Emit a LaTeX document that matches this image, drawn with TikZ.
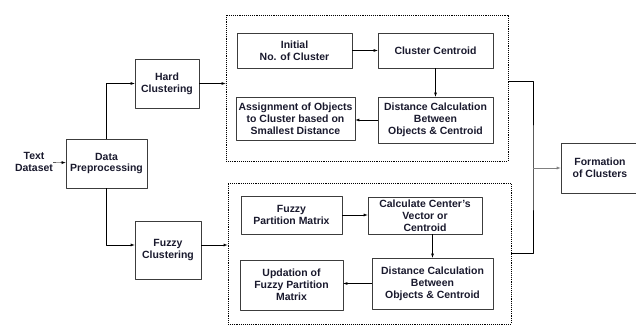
\documentclass[tikz,border=0pt]{standalone}
\usepackage{fontspec}
\setmainfont{Liberation Sans}
\definecolor{txtcol}{RGB}{25,25,45}
\definecolor{boxcol}{RGB}{60,60,60}
\tikzset{
  stepbox/.style={draw=boxcol,line width=0.7pt,align=center,inner sep=0pt,
    font=\fontsize{10.5}{12}\selectfont\bfseries,text=txtcol},
  groupbox/.style={draw=black,densely dotted,line width=0.9pt,inner sep=0pt},
}
\begin{document}
\begin{tikzpicture}[>=latex,line join=bevel,]
\useasboundingbox (0bp,0bp) rectangle (636bp,325bp);
%%
\node (node_top) at (367bp,237bp) [groupbox,minimum width=282bp,minimum height=146bp] {};
  \node (node_bot) at (369.5bp,71.5bp) [groupbox,minimum width=283bp,minimum height=141bp] {};
%
\node (node_text) at (34bp,163bp) [stepbox,draw=none] {Text\\Dataset};
  \node (node_prep) at (106.5bp,161.5bp) [stepbox,minimum width=81bp,minimum height=49bp] {Data\\Preprocessing};
  \node (node_hard) at (167bp,241.5bp) [stepbox,minimum width=64bp,minimum height=49bp] {Hard\\Clustering};
  \node (node_fuzzy) at (168bp,75bp) [stepbox,minimum width=66bp,minimum height=58bp] {Fuzzy\\Clustering};
%
\node (node_init) at (294.5bp,274.5bp) [stepbox,minimum width=115bp,minimum height=35bp] {Initial\\No. of Cluster};
  \node (node_cent) at (435.5bp,274.5bp) [stepbox,minimum width=115bp,minimum height=35bp] {Cluster Centroid};
  \node (node_dist1) at (435.5bp,205bp) [stepbox,minimum width=115bp,minimum height=46bp] {Distance Calculation\\Between\\Objects \& Centroid};
  \node (node_assign) at (295.5bp,206.5bp) [stepbox,minimum width=119bp,minimum height=43bp] {Assignment of Objects\\to Cluster based on\\Smallest Distance};
%
\node (node_fpm) at (291.5bp,110bp) [stepbox,minimum width=101bp,minimum height=38bp] {Fuzzy\\Partition Matrix};
  \node (node_ccv) at (425bp,109.5bp) [stepbox,minimum width=114bp,minimum height=37bp] {Calculate Center's\\Vector or\\Centroid};
  \node (node_dist2) at (432.5bp,41.5bp) [stepbox,minimum width=121bp,minimum height=51bp] {Distance Calculation\\Between\\Objects \& Centroid};
  \node (node_upd) at (291.5bp,40bp) [stepbox,minimum width=103bp,minimum height=50bp] {Updation of\\Fuzzy Partition\\Matrix};
%
\node (node_form) at (600bp,157bp) [stepbox,minimum width=78bp,minimum height=50bp] {Formation\\of Clusters};
  \coordinate (node_join) at (533bp,157bp);
%%
\draw [black,->] (node_text) -- (node_prep);
  \draw [black,->] (node_prep.north) |- (node_hard.west);
  \draw [black,->] (node_prep.south) |- ([yshift=5bp]node_fuzzy.west);
  \draw [black,->] (node_hard.east) -- (node_hard.east -| node_top.west);
  \draw [black,->] ([yshift=5bp]node_fuzzy.east) -- ([yshift=5bp]node_fuzzy.east -| node_bot.west);
%
\draw [black,->] (node_init) -- (node_cent);
  \draw [black,->] (node_cent) -- (node_dist1);
  \draw [black,->] (node_dist1.west) -- (node_dist1.west -| node_assign.east);
  \draw [black,->] (node_fpm) -- (node_ccv.west |- node_fpm);
  \draw [black,->] (node_dist2.north |- node_ccv.south) -- (node_dist2.north);
  \draw [black,->] (node_dist2.west) -- (node_dist2.west -| node_upd.east);
%
\draw [black] ([yshift=7bp]node_top.east) -| (node_join) |- (node_bot.east);
  \draw [gray,->] (node_join) -- (node_form);
%
\end{tikzpicture}
\end{document}
